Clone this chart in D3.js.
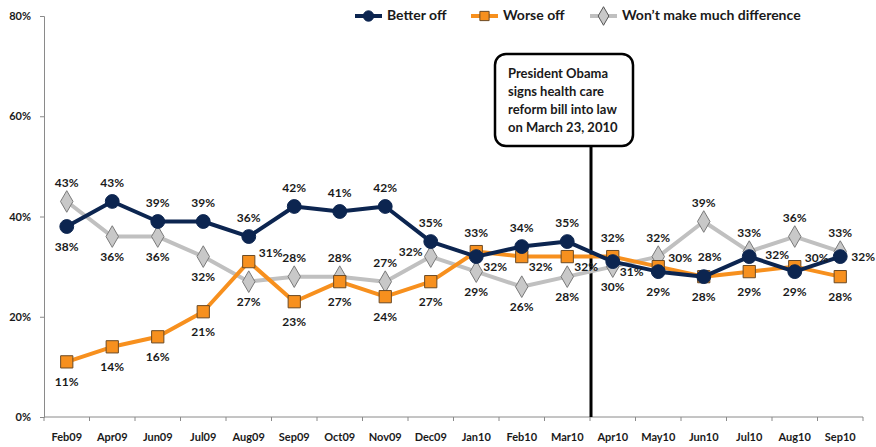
<!DOCTYPE html>
<html><head><meta charset="utf-8">
<script src="https://cdn.jsdelivr.net/npm/d3@7"></script>
<style>
html,body{margin:0;padding:0;background:#fff;}
svg text{font-family:Lato,"Open Sans",sans-serif;font-weight:bold;fill:#1a1a1a;}
</style></head>
<body><svg id="c" width="876" height="447"></svg>
<script>
const categories = ["Feb09","Apr09","Jun09","Jul09","Aug09","Sep09","Oct09","Nov09","Dec09","Jan10","Feb10","Mar10","Apr10","May10","Jun10","Jul10","Aug10","Sep10"];
const betterOff = [38,43,39,39,36,42,41,42,35,32,34,35,31,29,28,32,29,32];
const worseOff  = [11,14,16,21,31,23,27,24,27,33,32,32,32,30,28,29,30,28];
const noDiff    = [43,36,36,32,27,28,28,27,32,29,26,28,30,32,39,33,36,33];
const yTicks = [0,20,40,60,80];
const seriesNames = ["Better off","Worse off","Won\u2019t make much difference"];
const betterPlace = ["below","above","above","above","above","above","above","above","above","below-right","above","above","below-right","below","below","right-far","below","right"];
const worsePlace  = ["below","below","below","below","right-up","below","below","below","below","above","below-right","below-right","above","right-up","above-right","below","right-up","below"];
const noDiffPlace = ["above","below","below","below","below","above","above","above","left","below","below","below","below","above","above","above","above","above"];
const annotationLines = ["President Obama","signs health care","reform bill into law","on March 23, 2010"];

const svg = d3.select("#c");
const x = d3.scaleBand().domain(categories).range([44, 863]);
const y = d3.scaleLinear().domain([0, 80]).range([417, 16]);
const axisColor = "#8a8a8a";

// Y axis
const yAxis = svg.append("g").attr("transform","translate(44,0)")
  .call(d3.axisLeft(y).tickValues(yTicks).tickFormat(d => d + "%").tickSize(4).tickPadding(9));
yAxis.select(".domain").attr("stroke", axisColor);
yAxis.selectAll(".tick line").attr("stroke", axisColor);
yAxis.selectAll("text").style("font-size","11px").attr("fill","#1a1a1a");

// X axis: ticks at band boundaries
const xg = svg.append("g").attr("transform","translate(0,417)");
xg.append("line").attr("x1",44).attr("x2",863).attr("stroke",axisColor);
const bounds = categories.map(c => x(c)).concat([x.range()[1]]);
xg.selectAll("line.t").data(bounds).join("line").attr("class","t")
  .attr("x1",d=>d).attr("x2",d=>d).attr("y1",0).attr("y2",4).attr("stroke",axisColor);
xg.selectAll("text").data(categories).join("text")
  .attr("x", d => x(d) + x.bandwidth()/2).attr("y", 24)
  .attr("text-anchor","middle").style("font-size","11px").text(d => d);

// Annotation line
const lineX = x("Apr10");
svg.append("line").attr("x1",lineX+1).attr("x2",lineX+1).attr("y1",146).attr("y2",417)
  .attr("stroke","#000").attr("stroke-width",3);

const offsets = {
  "above":[0,-18], "below":[0,21], "right":[23,1], "right-far":[28,-1], "right-up":[22,-8],
  "below-right":[19,11], "above-right":[6,-19], "left":[-20,-4]
};

const series = [
  {name:seriesNames[2], values:noDiff, place:noDiffPlace, color:"#c0c0c0", marker:"diamond", fill:"#c8c8c8", mstroke:"#7a7a7a"},
  {name:seriesNames[1], values:worseOff, place:worsePlace, color:"#f7901e", marker:"square", fill:"#f7901e", mstroke:"#6b4a25"},
  {name:seriesNames[0], values:betterOff, place:betterPlace, color:"#0c2550", marker:"circle", fill:"#0c2550", mstroke:"#0c2550"}
];
const cx = c => x(c) + x.bandwidth()/2;
const symType = {circle:d3.symbolCircle, square:d3.symbolSquare, diamond:d3.symbolDiamond};
const symSize = {circle:150, square:150, diamond:135};

series.forEach(s => {
  const pts = categories.map((c,i) => ({c, v:s.values[i], p:s.place[i]}));
  svg.append("path").datum(pts)
    .attr("d", d3.line().x(d => cx(d.c)).y(d => y(d.v)))
    .attr("fill","none").attr("stroke",s.color).attr("stroke-width",4).attr("stroke-linejoin","round");
  svg.selectAll(null).data(pts).join("path")
    .attr("transform", d => `translate(${cx(d.c)},${y(d.v)})`)
    .attr("d", d3.symbol().type(symType[s.marker]).size(symSize[s.marker]))
    .attr("fill", s.fill).attr("stroke", s.mstroke).attr("stroke-width", 1);
  s.pts = pts;
});
series.forEach(s => {
  svg.selectAll(null).data(s.pts).join("text")
    .attr("x", d => cx(d.c) + offsets[d.p][0])
    .attr("y", d => y(d.v) + offsets[d.p][1])
    .attr("text-anchor","middle").attr("dominant-baseline","middle")
    .style("font-size","12px").text(d => d.v + "%");
});

// Annotation box
svg.append("rect").attr("x",495).attr("y",54).attr("width",138).attr("height",92)
  .attr("rx",11).attr("fill","#fff").attr("stroke","#000").attr("stroke-width",2.5);
svg.selectAll(null).data(annotationLines).join("text")
  .attr("x",508).attr("y",(d,i)=>78 + i*18).style("font-size","13px").text(d=>d);

// Legend
const legend = [
  {name:seriesNames[0], color:"#0c2550", marker:"circle", fill:"#0c2550", mstroke:"#0c2550", x:355, size:85},
  {name:seriesNames[1], color:"#f7901e", marker:"square", fill:"#f7901e", mstroke:"#6b4a25", x:471, size:85},
  {name:seriesNames[2], color:"#c0c0c0", marker:"diamond", fill:"#c8c8c8", mstroke:"#555", x:590, size:100}
];
const lg = svg.append("g");
legend.forEach(l => {
  lg.append("line").attr("x1",l.x).attr("x2",l.x+27).attr("y1",16).attr("y2",16)
    .attr("stroke",l.color).attr("stroke-width",4);
  lg.append("path").attr("transform",`translate(${l.x+13.5},16)`)
    .attr("d", d3.symbol().type(symType[l.marker]).size(l.size))
    .attr("fill",l.fill).attr("stroke",l.mstroke).attr("stroke-width",1);
  lg.append("text").attr("x", l.x+32).attr("y",16).attr("dominant-baseline","middle")
    .style("font-size","14px").text(l.name);
});
</script></body></html>
